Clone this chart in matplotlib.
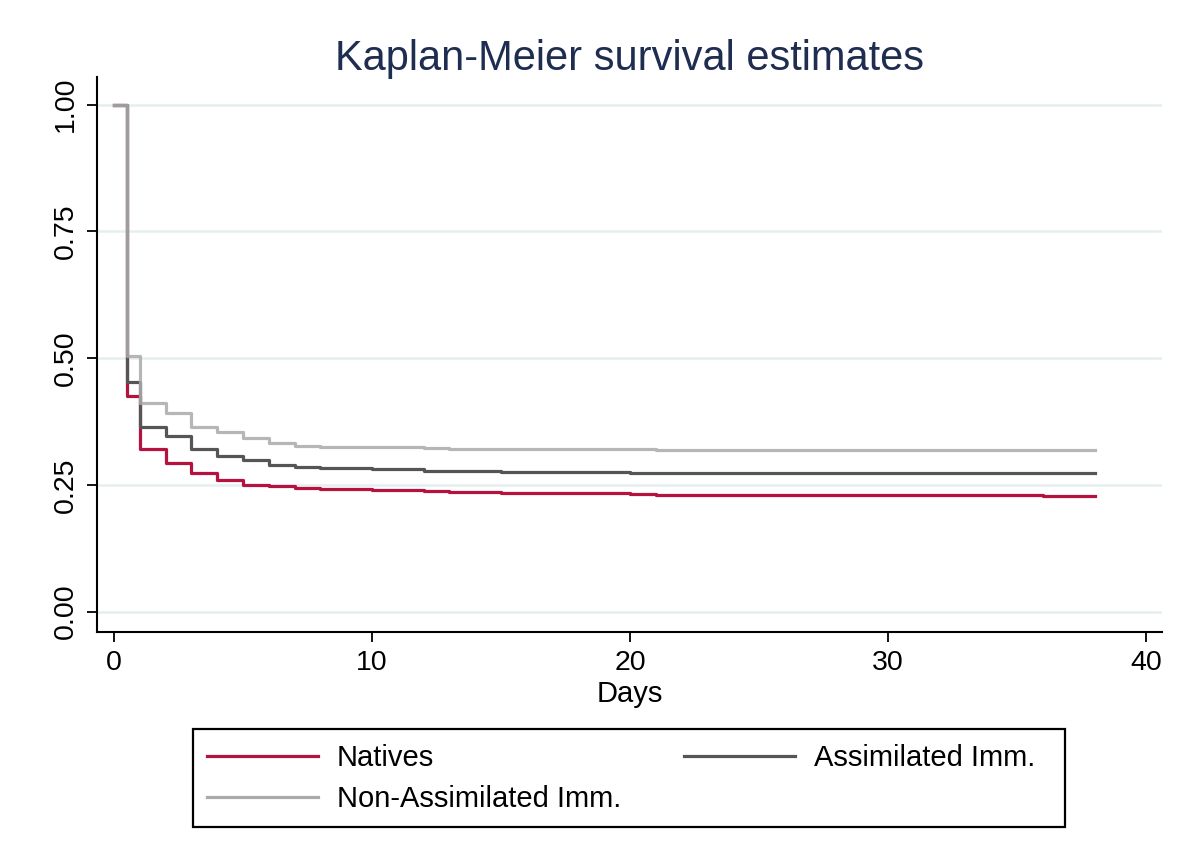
import matplotlib
matplotlib.use("Agg")
import matplotlib.pyplot as plt
from matplotlib.patches import Rectangle

plt.rcParams['font.family'] = ['Liberation Sans', 'DejaVu Sans']

# Step times (days) and survival estimates
natives_t = [0, 0.5, 1, 2, 3, 4, 5, 6, 7, 8, 10, 12, 13, 15, 20, 21, 36, 38]
natives_s = [1.0, 0.425, 0.320, 0.294, 0.274, 0.260, 0.250, 0.247, 0.244, 0.242, 0.240, 0.238, 0.236, 0.234, 0.232, 0.231, 0.228, 0.228]

assim_t = [0, 0.5, 1, 2, 3, 4, 5, 6, 7, 8, 10, 12, 15, 20, 38]
assim_s = [1.0, 0.452, 0.365, 0.347, 0.321, 0.306, 0.300, 0.290, 0.286, 0.284, 0.281, 0.278, 0.275, 0.273, 0.273]

nonassim_t = [0, 0.5, 1, 2, 3, 4, 5, 6, 7, 8, 10, 12, 13, 18, 21, 32, 38]
nonassim_s = [1.0, 0.505, 0.412, 0.392, 0.365, 0.355, 0.343, 0.333, 0.327, 0.325, 0.324, 0.322, 0.321, 0.320, 0.319, 0.318, 0.318]

labels = ["Natives", "Assimilated Imm.", "Non-Assimilated Imm."]
colors = ["#b5123f", "#555555", "#aaaaaa"]

xticks = [0, 10, 20, 30, 40]
yticks = [0.00, 0.25, 0.50, 0.75, 1.00]

fig = plt.figure(figsize=(11.87, 8.61), dpi=100)
ax = fig.add_axes([0.0817, 0.266, 0.897, 0.645])

for y in yticks:
    ax.axhline(y, color="#e6eff0", lw=1.8, zorder=0)

h_n, = ax.step(natives_t, natives_s, where="post", color=colors[0], lw=2.3, label=labels[0])
h_as, = ax.step(assim_t, assim_s, where="post", color=colors[1], lw=2.3, label=labels[1])
h_na, = ax.step(nonassim_t, nonassim_s, where="post", color=colors[2], lw=2.3, label=labels[2], alpha=0.85)

ax.set_xlim(-0.66, 40.6)
ax.set_ylim(-0.04, 1.055)
ax.set_xticks(xticks)
ax.set_yticks(yticks)
ax.set_yticklabels([f"{v:.2f}" for v in yticks], rotation=90, va="center")
ax.tick_params(axis="both", direction="out", length=7, width=1.3, labelsize=20.5, colors="black")
ax.tick_params(axis="y", pad=6)
ax.tick_params(axis="x", pad=6)
for s in ["top", "right"]:
    ax.spines[s].set_visible(False)
for s in ["left", "bottom"]:
    ax.spines[s].set_linewidth(1.5)

ax.set_xlabel("Days", fontsize=21, labelpad=3)
fig.text(0.530, 1 - 70 / 861, "Kaplan-Meier survival estimates", fontsize=30,
         color="#1e2d50", ha="center", va="baseline")

leg = fig.legend([h_n, h_na, h_as], [labels[0], labels[2], labels[1]],
                 ncol=2, loc="upper left", bbox_to_anchor=(207 / 1187, 1 - 744 / 861),
                 fontsize=21, frameon=False, borderpad=0, borderaxespad=0,
                 handlelength=3.8, handletextpad=0.65, columnspacing=2.15, labelspacing=0.45)
for line in leg.get_lines():
    line.set_linewidth(2.3)
    line.set_alpha(1.0)

fig.patches.append(Rectangle((193 / 1187, 1 - 827 / 861), (1065 - 193) / 1187, (827 - 729) / 861,
                             transform=fig.transFigure, fill=False, lw=1.6, edgecolor="black"))

fig.savefig("out.png", dpi=100, facecolor="white")
